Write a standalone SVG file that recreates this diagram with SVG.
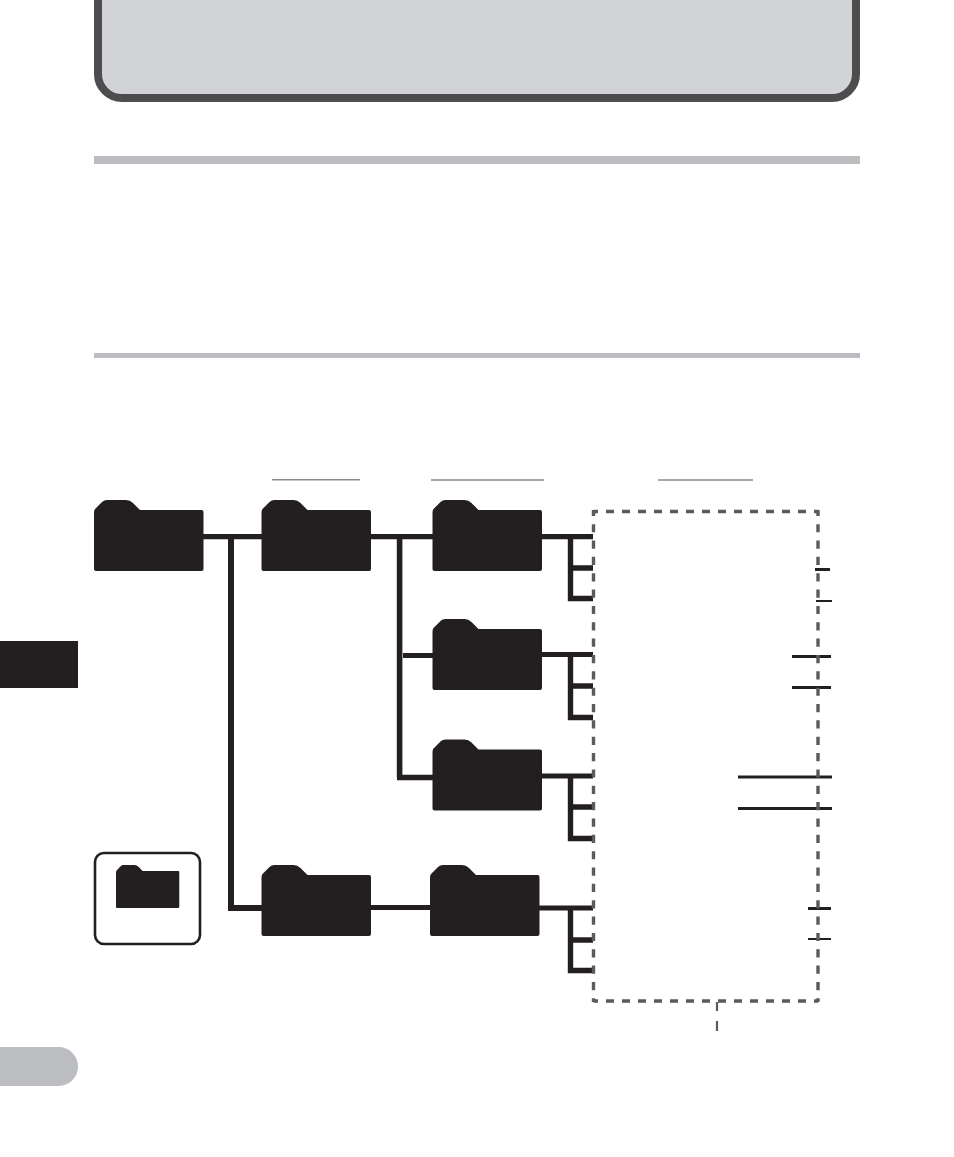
<svg xmlns="http://www.w3.org/2000/svg" width="954" height="1157" viewBox="0 0 954 1157">
<style>
.k{fill:#231f20}
.c{stroke:#231f20;fill:none;stroke-linecap:butt;stroke-linejoin:miter}
.d{stroke:#5a5b5d;stroke-width:3.4;fill:none}
.h{stroke:#8a8a8c;stroke-width:1.5}
</style>
<defs>
<path id="folder" d="M0,13 L0,69 Q0,71 2,71 L107.5,71 Q109.5,71 109.5,69 L109.5,12 Q109.5,10 107.5,10 L46,10 L39,3 Q36,0 32,0 L13,0 Q10,0 8,2 L1,9 Q0,10 0,13 Z"/>
</defs>
<rect width="954" height="1157" fill="#fff"/>
<rect id="banner" x="98" y="-40" width="758" height="138" rx="24" fill="#d1d3d4" stroke="#4d4d4f" stroke-width="8"/>
<rect id="rule1" x="94" y="156" width="766" height="8" fill="#bcbdc0"/>
<rect id="rule2" x="94" y="353" width="766" height="5" fill="#bcbdc0"/>
<rect id="side-tab" x="0" y="641" width="78" height="47" class="k"/>
<path id="page-pill" d="M0,1047 H58.5 A19.5,19.5 0 0 1 58.5,1086 H0 Z" fill="#bcbdc0"/>
<g id="headers">
<line class="h" x1="272" y1="479.7" x2="360" y2="479.7"/>
<line class="h" x1="431" y1="480" x2="544" y2="480"/>
<line class="h" x1="658" y1="480" x2="753" y2="480"/>
</g>
<g id="connectors">
<path class="c" stroke-width="5.2" d="M203,536.6 H593"/>
<path class="c" stroke-width="6" d="M231,534 V908 M228,908 H262"/>
<path class="c" stroke-width="5.6" d="M399.6,534 V777.5 M397,777.5 H433"/>
<path class="c" stroke-width="5" d="M403,655.5 H433"/>
<path class="c" stroke-width="5" d="M371,907.5 H431"/>
<path class="c" stroke-width="5" d="M541,654.5 H593 M541,776 H593 M538,908 H593"/>
<path class="c" stroke-width="5.4" d="M570.5,537 V598.5 H593 M570.5,568 H593"/>
<path class="c" stroke-width="5.4" d="M570.5,655 V717.5 H593 M570.5,686 H593"/>
<path class="c" stroke-width="5.4" d="M570.5,776 V838.5 H593 M570.5,807 H593"/>
<path class="c" stroke-width="5.4" d="M570.5,908 V970.5 H593 M570.5,940 H593"/>
<path class="c" stroke-width="3" d="M815,569.5 H830 M792,656.5 H831 M792,687.5 H831 M738,777 H832 M738,808.5 H832 M808,908.5 H831"/>
<path class="c" stroke-width="2" d="M816,601 H832 M808,939 H831"/>
</g>
<g id="dashed-frame">
<line class="d" x1="593.5" y1="511.5" x2="818" y2="511.5" stroke-dasharray="8 8" stroke-dashoffset="3.5"/>
<line class="d" x1="593.5" y1="1001" x2="818" y2="1001" stroke-dasharray="8 8" stroke-dashoffset="3.5"/>
<line class="d" x1="593.5" y1="510" x2="593.5" y2="1002" stroke-dasharray="8.2 8.15" stroke-dashoffset="2.2"/>
<line class="d" x1="818" y1="510" x2="818" y2="1002" stroke-dasharray="8.2 8.15" stroke-dashoffset="2.2"/>
<path d="M717,1002 V1011 M717,1021 V1031" stroke="#5a5b5d" stroke-width="2.2" fill="none"/>
</g>
<g id="folder-root"><use href="#folder" class="k" x="94" y="500"/></g>
<g id="folder-2"><use href="#folder" class="k" x="261.5" y="500"/></g>
<g id="folder-3"><use href="#folder" class="k" x="432.5" y="500"/></g>
<g id="folder-4"><use href="#folder" class="k" x="432.5" y="619"/></g>
<g id="folder-5"><use href="#folder" class="k" x="432.5" y="739.5"/></g>
<g id="folder-6"><use href="#folder" class="k" x="261.5" y="865"/></g>
<g id="folder-7"><use href="#folder" class="k" x="430" y="865"/></g>
<g id="folder-box">
<rect x="95" y="853" width="105" height="91" rx="9" fill="#fff" stroke="#231f20" stroke-width="2.6"/>
<use href="#folder" class="k" transform="translate(116 865) scale(0.578 0.606)"/>
</g>
</svg>
